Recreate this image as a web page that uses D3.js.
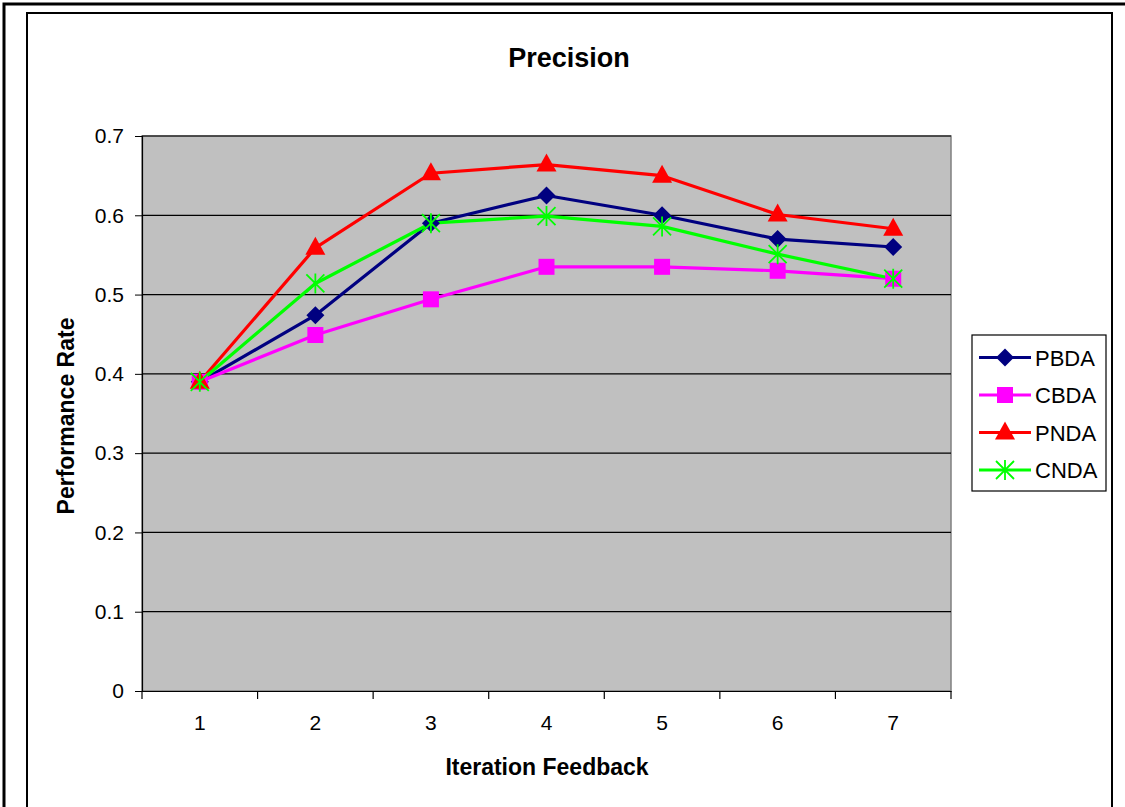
<!DOCTYPE html>
<html><head><meta charset="utf-8">
<script src="https://cdn.jsdelivr.net/npm/d3@7"></script>
<style>body{margin:0;background:#fff;}svg{display:block;font-family:"Liberation Sans",Arial,sans-serif;}</style>
</head><body>
<svg id="c" width="1125" height="807"></svg>
<script>
const categories = [1,2,3,4,5,6,7];
const seriesNames = ["PBDA","CBDA","PNDA","CNDA"];
const PBDA = [0.390,0.474,0.590,0.625,0.600,0.570,0.560];
const CBDA = [0.390,0.449,0.494,0.535,0.535,0.530,0.520];
const PNDA = [0.390,0.559,0.653,0.664,0.650,0.601,0.583];
const CNDA = [0.390,0.514,0.590,0.599,0.586,0.551,0.520];
const yTicks = [0,0.1,0.2,0.3,0.4,0.5,0.6,0.7];
const colors = {PBDA:"#000080",CBDA:"#FF00FF",PNDA:"#FF0000",CNDA:"#00FF00"};
const markers = {PBDA:"diamond",CBDA:"square",PNDA:"triangle",CNDA:"star"};
const data = {PBDA,CBDA,PNDA,CNDA};

const svg = d3.select("#c");
// frames
svg.append("rect").attr("x",4).attr("y",4).attr("width",1130).attr("height",820).attr("fill","none").attr("stroke","#000").attr("stroke-width",3);
svg.append("rect").attr("x",27).attr("y",13).attr("width",1085).attr("height",820).attr("fill","#fff").attr("stroke","#000").attr("stroke-width",2);

const L=142,R=951,T=136,B=691;
const x = d3.scaleBand().domain(categories).range([L,R]).padding(0);
const y = d3.scaleLinear().domain([0,0.7]).range([B,T]);

svg.append("rect").attr("x",L).attr("y",T).attr("width",R-L).attr("height",B-T).attr("fill","#C0C0C0").attr("stroke","#808080").attr("stroke-width",1.5);

// gridlines
svg.append("g").selectAll("line").data(yTicks.filter(d=>d>0)).join("line")
  .attr("x1",L).attr("x2",R).attr("y1",d=>y(d)).attr("y2",d=>y(d))
  .attr("stroke","#000").attr("stroke-width",1.2);

// y axis
const ya = svg.append("g").attr("transform",`translate(${L},0)`)
  .call(d3.axisLeft(y).tickValues(yTicks).tickFormat(d=>d===0?"0":d3.format(".1f")(d)).tickSize(7).tickPadding(11));
ya.select(".domain").attr("stroke","#000").attr("stroke-width",1.2);
ya.selectAll(".tick line").attr("stroke","#000");
ya.selectAll("text").attr("font-size",21).attr("font-family","Liberation Sans, Arial, sans-serif").attr("fill","#000");

// x axis
const xa = svg.append("g").attr("transform",`translate(0,${B})`)
  .call(d3.axisBottom(x).tickSize(0).tickPadding(24));
xa.select(".domain").attr("stroke","#000").attr("stroke-width",1.2);
xa.selectAll("text").attr("font-size",21).attr("font-family","Liberation Sans, Arial, sans-serif").attr("fill","#000");
const bounds = categories.map(c=>x(c)).concat([R]);
svg.append("g").selectAll("line").data(bounds).join("line")
  .attr("x1",d=>d).attr("x2",d=>d).attr("y1",B).attr("y2",B+8).attr("stroke","#000").attr("stroke-width",1.2);

// titles
svg.append("text").attr("x",569).attr("y",67).attr("text-anchor","middle").attr("font-size",27).attr("font-weight","bold").text("Precision");
svg.append("text").attr("x",547).attr("y",775).attr("text-anchor","middle").attr("font-size",23).attr("font-weight","bold").text("Iteration Feedback");
svg.append("text").attr("transform","translate(74,416) rotate(-90)").attr("text-anchor","middle").attr("font-size",23).attr("font-weight","bold").text("Performance Rate");

function drawMarker(g,type,color,cx,cy){
  if(type==="diamond"){
    g.append("path").attr("d",`M${cx},${cy-9}L${cx+9},${cy}L${cx},${cy+9}L${cx-9},${cy}Z`).attr("fill",color);
  } else if(type==="square"){
    g.append("rect").attr("x",cx-8).attr("y",cy-8).attr("width",16).attr("height",16).attr("fill",color);
  } else if(type==="triangle"){
    g.append("path").attr("d",`M${cx},${cy-11}L${cx+10},${cy+7}L${cx-10},${cy+7}Z`).attr("fill",color);
  } else {
    const s=9;
    g.append("path").attr("d",`M${cx-s},${cy-s}L${cx+s},${cy+s}M${cx-s},${cy+s}L${cx+s},${cy-s}M${cx},${cy-s-1}L${cx},${cy+s+1}`)
      .attr("stroke",color).attr("stroke-width",1.8).attr("fill","none");
  }
}

const line = d3.line().x((d,i)=>x(categories[i])+x.bandwidth()/2).y(d=>y(d));
const lg = svg.append("g");
seriesNames.forEach(n=>{
  lg.append("path").datum(data[n]).attr("d",line).attr("fill","none").attr("stroke",colors[n]).attr("stroke-width",3.2).attr("stroke-linejoin","round");
});
const mg = svg.append("g");
seriesNames.forEach(n=>{
  data[n].forEach((v,i)=>drawMarker(mg,markers[n],colors[n],x(categories[i])+x.bandwidth()/2,y(v)));
});

// legend
const leg = svg.append("g");
leg.append("rect").attr("x",972).attr("y",335).attr("width",134).attr("height",156).attr("fill","#fff").attr("stroke","#000").attr("stroke-width",1.2);
seriesNames.forEach((n,i)=>{
  const cy = 357.5 + i*37.5;
  leg.append("line").attr("x1",979).attr("x2",1031).attr("y1",cy).attr("y2",cy).attr("stroke",colors[n]).attr("stroke-width",3.2);
  drawMarker(leg,markers[n],colors[n],1005,cy);
  leg.append("text").attr("x",1035).attr("y",cy+8).attr("font-size",22).text(n);
});
</script>
</body></html>
